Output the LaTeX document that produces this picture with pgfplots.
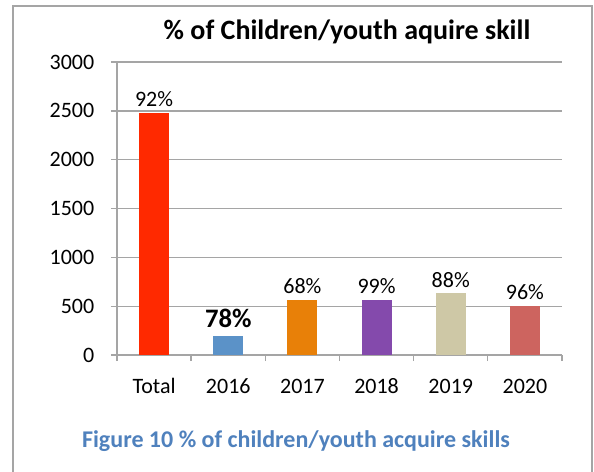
\documentclass[border=0pt]{standalone}
\usepackage{pgfplots}
\pgfplotsset{compat=1.18}
\usepackage{fontspec}
\setmainfont{Carlito}
\definecolor{cTotal}{RGB}{255,41,0}
\definecolor{cA}{RGB}{91,146,200}
\definecolor{cB}{RGB}{232,128,8}
\definecolor{cC}{RGB}{132,74,172}
\definecolor{cD}{RGB}{206,200,166}
\definecolor{cE}{RGB}{205,100,95}
\definecolor{capblue}{RGB}{79,129,189}
\definecolor{axgray}{RGB}{165,165,165}
\begin{document}
\begin{tikzpicture}
\begin{axis}[
    at={(0,0)}, anchor=south west,
    width=333.75pt, height=219.75pt, scale only axis,
    xmin=-0.5, xmax=5.5, ymin=0, ymax=3000,
    ytick={0,500,...,3000},
    xtick={-0.5,0.5,...,5.5},
    xticklabels={Total,2016,2017,2018,2019,2020},
    x tick label as interval,
    xticklabel style={anchor=base, yshift=-24pt},
    /pgf/number format/assume math mode=true,
    /pgf/number format/1000 sep={},
    axis lines=left,
    axis line style={-, draw=axgray, line width=1pt},
    tick align=outside, major tick length=4.5pt,
    tick style={axgray, line width=1pt},
    ymajorgrids, grid style={axgray, line width=1pt},
    tick label style={font=\fontsize{16.5}{20}\selectfont},
    yticklabel style={xshift=-9pt},
    ybar, bar width=22.5pt, bar shift=0pt,
    nodes near coords, point meta=explicit symbolic,
    every node near coord/.append style={font=\fontsize{16.5}{20}\selectfont, black, yshift=1pt},
  ]
\addplot[fill=cTotal, draw=none] coordinates {(0,2480) [92\%]};
\addplot[fill=cA, draw=none, every node near coord/.append style={font=\bfseries\fontsize{20}{24}\selectfont, yshift=2pt}] coordinates {(1,190) [78\%]};
\addplot[fill=cB, draw=none] coordinates {(2,565) [68\%]};
\addplot[fill=cC, draw=none] coordinates {(3,565) [99\%]};
\addplot[fill=cD, draw=none] coordinates {(4,630) [88\%]};
\addplot[fill=cE, draw=none] coordinates {(5,505) [96\%]};
\end{axis}
\node[font=\bfseries\fontsize{21}{25}\selectfont] at (172.5pt,242.25pt) {\% of Children/youth aquire skill};
\node[font=\bfseries\fontsize{18}{22}\selectfont, text=capblue] at (134.25pt,-64.5pt) {Figure 10 \% of children/youth acquire skills};
\draw[axgray, line width=1pt] (-78pt,-90pt) -- (-78pt,261.75pt) -- (356.25pt,261.75pt) -- (356.25pt,-90pt);
\pgfresetboundingbox
\useasboundingbox (-87.75pt,-87.75pt) rectangle (357.75pt,266.25pt);
\end{tikzpicture}
\end{document}
